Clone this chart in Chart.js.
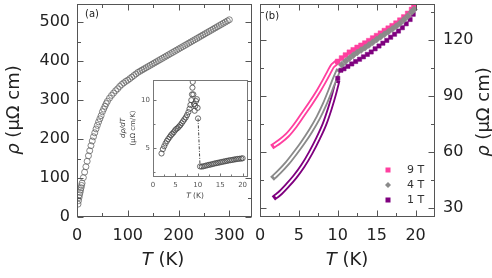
<!DOCTYPE html>
<html>
<head>
<meta charset="utf-8">
<script src="https://cdn.jsdelivr.net/npm/chart.js@4.4.1/dist/chart.umd.min.js"></script>
<style>
html, body { margin: 0; padding: 0; background: #fff; }
#wrap { position: relative; width: 492px; height: 278px; overflow: hidden; }
canvas { position: absolute; }
</style>
</head>
<body>
<div id="wrap">
  <canvas id="left" width="256" height="278" style="left:0;top:0"></canvas>
  <canvas id="right" width="236" height="278" style="left:256px;top:0"></canvas>
  <canvas id="inset" width="140" height="132" style="left:113px;top:72px"></canvas>
</div>
<script>
// (a) resistivity vs temperature, 0-300 K
var rhoT = [2, 3, 4, 5, 6, 7, 8, 9, 10, 12.5, 15, 17.5, 20, 22.5, 25, 27.5, 30, 32.5, 35, 37.5,
  40, 42.5, 45, 47.5, 50, 52.5, 55, 57.5, 60,
  64, 68, 72, 76, 80, 84, 88, 92, 96, 100, 104, 108, 112, 116, 120, 124, 128, 132, 136, 140,
  144, 148, 152, 156, 160, 164, 168, 172, 176, 180, 184, 188, 192, 196, 200, 204, 208, 212, 216, 220,
  224, 228, 232, 236, 240, 244, 248, 252, 256, 260, 264, 268, 272, 276, 280, 284, 288, 292, 296, 300];
var rhoVal = [33, 42, 50, 57, 63, 69, 75, 81, 87, 101, 115, 129, 143, 157, 170, 183, 195, 206, 216, 226,
  235, 244, 252, 260, 270, 277, 284, 291, 297,
  305, 312, 318, 324, 329, 335, 340, 344, 348, 351, 355, 359, 363, 367, 371, 374, 377, 380, 383, 386,
  389, 392, 395, 398, 401, 404, 407, 410, 413, 416, 419, 422, 425, 428, 431, 434, 437, 440, 443, 446,
  449, 452, 455, 458, 461, 464, 467, 470, 473, 476, 479, 482, 485, 488, 491, 494, 497, 500, 503, 506];

// inset: d rho / dT
var insetT = [1.9, 2.2, 2.5, 2.8, 3.1, 3.4, 3.7, 4.0, 4.3, 4.6, 4.9, 5.2, 5.5, 5.8, 6.1, 6.4, 6.7, 7.0, 7.3, 7.6,
  7.9, 8.15, 8.35, 8.55, 8.7, 8.8, 8.87, 9.0, 9.15, 9.3, 9.45, 9.6, 9.8, 9.95, 10.05, 10.5, 10.9, 11.3, 11.7, 12.1,
  12.5, 12.9, 13.3, 13.7, 14.1, 14.5, 14.9, 15.3, 15.7, 16.1, 16.5, 16.9, 17.3, 17.7, 18.1, 18.5, 18.9, 19.3, 19.7, 20.0];
var insetVal = [4.45, 4.9, 5.2, 5.5, 5.75, 5.95, 6.15, 6.35, 6.5, 6.65, 6.85, 7.0, 7.1, 7.25, 7.4, 7.6, 7.8, 8.0, 8.2, 8.45,
  8.75, 9.1, 9.5, 10.0, 10.6, 11.3, 11.9, 10.6, 9.6, 8.9, 9.4, 9.9, 10.1, 9.2, 8.1, 3.1, 3.08, 3.12, 3.17, 3.22,
  3.27, 3.3, 3.35, 3.4, 3.44, 3.48, 3.52, 3.56, 3.6, 3.64, 3.68, 3.72, 3.75, 3.78, 3.82, 3.85, 3.88, 3.9, 3.92, 3.95];

// (b) low temperature, three fields
var lowT9 = [1.8, 2.5, 3.5, 4.5, 5.5, 6.5, 7.5, 8.3, 8.9, 9.3, 9.7];
var lowV9 = [63.5, 65.5, 69, 74, 80, 86, 92.5, 98.3, 103, 106, 107.5];
var highT9 = [10, 10.5, 11, 11.5, 12, 12.5, 13, 13.5, 14, 14.5, 15, 15.5, 16, 16.5, 17, 17.5, 18, 18.5, 19, 19.5, 19.8];
var highV9 = [108.5, 110.3, 111.9, 113.4, 114.7, 116, 117.1, 118.3, 119.6, 121, 122.3, 123.6, 125, 126.3, 127.6, 129, 130.6, 132.3, 134.2, 136.3, 137.6];

var lowT4 = [1.8, 2.5, 3.5, 4.5, 5.5, 6.5, 7.5, 8.3, 9, 9.5, 10];
var lowV4 = [46.7, 49.5, 54, 59.3, 65, 71.3, 78.5, 85.5, 92.6, 98, 103];
var highT4 = [10.5, 11, 11.5, 12, 12.5, 13, 13.5, 14, 14.5, 15, 15.5, 16, 16.5, 17, 17.5, 18, 18.5, 19, 19.5, 19.8];
var highV4 = [106.8, 108.6, 110.3, 111.9, 113.3, 114.6, 115.9, 117.3, 118.8, 120.3, 121.7, 123.1, 124.5, 125.9, 127.4, 129, 130.8, 132.8, 135, 136.3];

var lowT1 = [2, 2.5, 3.5, 4.5, 5.5, 6.5, 7.5, 8.3, 9, 9.5, 9.9];
var lowV1 = [36.1, 37.7, 42, 46.8, 52.5, 59.5, 67.6, 75, 83.5, 90.5, 97];
var highT1 = [10, 10.4, 10.8, 11.3, 11.8, 12.3, 12.8, 13.3, 13.8, 14.3, 14.8, 15.3, 15.8, 16.3, 16.8, 17.3, 17.8, 18.3, 18.8, 19.3, 19.7];
var highV1 = [99.5, 103.8, 104.6, 105.9, 107.2, 108.5, 109.7, 111, 112.3, 113.6, 115.3, 116.8, 118.3, 119.8, 121.5, 123.1, 124.8, 126.6, 128.7, 131, 133.8];

var fieldLabels = ['9 T', '4 T', '1 T'];

// ticks
var aXTicks = [0, 100, 200, 300], aXMinor = [50, 150, 250];
var aYTicks = [0, 100, 200, 300, 400, 500], aYMinor = [50, 150, 250, 350, 450];
var bXTicks = [0, 5, 10, 15, 20], bXMinor = [2.5, 7.5, 12.5, 17.5];
var bYTicks = [30, 60, 90, 120], bYMinor = [45, 75, 105, 135];
var iXTicks = [0, 5, 10, 15, 20], iXMinor = [2.5, 7.5, 12.5, 17.5];
var iYTicks = [5, 10], iYMinor = [2.5, 7.5];

var PINK = '#ff3f9f', GREY = '#8a8a8a', PURPLE = '#7f007f';
var FONT = '"DejaVu Sans", Verdana, sans-serif';

Chart.defaults.font.family = FONT;
Chart.defaults.color = '#222';
Chart.defaults.animation = false;

function pts(xs, ys) {
    return xs.map(function (x, i) { return { x: x, y: ys[i] }; });
}
function fixTicks(list) {
    return function (s) { s.ticks = list.map(function (v) { return { value: v }; }); };
}
// fixed axis size, no automatic label padding
function fitTo(prop, size) {
    return function (s) {
        s[prop] = size;
        s.paddingLeft = 0; s.paddingRight = 0; s.paddingTop = 0; s.paddingBottom = 0;
    };
}

function mixText(ctx, parts, x, y, rot, size, color) {
    ctx.save();
    ctx.translate(x, y);
    ctx.rotate(rot);
    ctx.fillStyle = color || '#222';
    ctx.textBaseline = 'middle';
    ctx.textAlign = 'left';
    var w = 0;
    parts.forEach(function (p) {
        ctx.font = (p[1] ? 'italic ' : '') + size + 'px ' + FONT;
        w += ctx.measureText(p[0]).width;
    });
    var cx = -w / 2;
    parts.forEach(function (p) {
        ctx.font = (p[1] ? 'italic ' : '') + size + 'px ' + FONT;
        ctx.fillText(p[0], cx, 0);
        cx += ctx.measureText(p[0]).width;
    });
    ctx.restore();
}

// box round the plot area with inward ticks, plus free text
function axisFrame(o) {
    return {
        id: 'axisFrame',
        beforeDatasetsDraw: function (chart) {
            if (!o.fill) return;
            var a = chart.chartArea;
            chart.ctx.save();
            chart.ctx.fillStyle = '#fff';
            chart.ctx.fillRect(a.left, a.top, a.right - a.left, a.bottom - a.top);
            chart.ctx.restore();
        },
        afterDatasetsDraw: function (chart) {
            var a = chart.chartArea, ctx = chart.ctx;
            var xs = chart.scales.x, ys = chart.scales.y;
            var l = Math.round(a.left) + 0.5, r = Math.round(a.right) - 0.5;
            var t = Math.round(a.top) + 0.5, b = Math.round(a.bottom) - 0.5;
            ctx.save();
            ctx.strokeStyle = o.color;
            ctx.lineWidth = 1;
            ctx.strokeRect(l, t, r - l, b - t);
            ctx.beginPath();
            function xt(vals, len) {
                vals.forEach(function (v) {
                    var px = Math.round(xs.getPixelForValue(v)) + 0.5;
                    ctx.moveTo(px, b); ctx.lineTo(px, b - len);
                    if (o.all) { ctx.moveTo(px, t); ctx.lineTo(px, t + len); }
                });
            }
            function yt(vals, len) {
                vals.forEach(function (v) {
                    var py = Math.round(ys.getPixelForValue(v)) + 0.5;
                    ctx.moveTo(l, py); ctx.lineTo(l + len, py);
                    if (o.all) { ctx.moveTo(r, py); ctx.lineTo(r - len, py); }
                });
            }
            xt(o.xMajor, o.major); xt(o.xMinor, o.minor);
            yt(o.yMajor, o.major); yt(o.yMinor, o.minor);
            ctx.stroke();
            ctx.restore();
            if (o.extra) o.extra(chart, ctx);
        }
    };
}

// (a)
new Chart(document.getElementById('left'), {
    type: 'scatter',
    data: {
        datasets: [{
            data: pts(rhoT, rhoVal),
            pointStyle: 'circle',
            pointRadius: 3,
            pointHoverRadius: 3,
            borderColor: '#666',
            borderWidth: 0.8,
            backgroundColor: 'rgba(255,255,255,0)'
        }]
    },
    options: {
        responsive: false,
        devicePixelRatio: 1,
        events: [],
        layout: { padding: { top: 2, right: 3, left: 0, bottom: 0 } },
        plugins: { legend: { display: false }, tooltip: { enabled: false } },
        scales: {
            x: {
                type: 'linear', min: 0, max: 345,
                afterBuildTicks: fixTicks(aXTicks),
                afterFit: fitTo('height', 61),
                grid: { display: false, drawTicks: false },
                border: { display: false },
                ticks: { font: { size: 16 }, padding: 9, maxRotation: 0, color: '#222' }
            },
            y: {
                type: 'linear', min: 0, max: 547,
                afterBuildTicks: fixTicks(aYTicks),
                afterFit: fitTo('width', 77),
                grid: { display: false, drawTicks: false },
                border: { display: false },
                ticks: { font: { size: 16 }, padding: 7, color: '#222' }
            }
        }
    },
    plugins: [axisFrame({
        color: '#555', all: true, major: 6, minor: 3.5,
        xMajor: aXTicks, xMinor: aXMinor, yMajor: aYTicks, yMinor: aYMinor,
        extra: function (chart, ctx) {
            mixText(ctx, [['ρ', true], [' (μΩ cm)', false]], 14, 110, -Math.PI / 2, 18);
            mixText(ctx, [['T', true], [' (K)', false]], 163, 260, 0, 18);
            mixText(ctx, [['(a)', false]], 92, 14, 0, 10);
        }
    })]
});

// (b)
function lowLine(xs, ys, color, white) {
    return {
        data: pts(xs, ys),
        showLine: true,
        pointRadius: 0,
        borderColor: white ? '#fff' : color,
        borderWidth: white ? 1.8 : 5.5,
        borderCapStyle: white ? 'butt' : 'square',
        cubicInterpolationMode: 'monotone'
    };
}
function highPts(xs, ys, color, style, r) {
    return {
        data: pts(xs, ys),
        showLine: false,
        pointStyle: style,
        pointRadius: r,
        pointHoverRadius: r,
        backgroundColor: color,
        borderColor: color,
        borderWidth: 0.5
    };
}

new Chart(document.getElementById('right'), {
    type: 'scatter',
    data: {
        datasets: [
            highPts(highT4, highV4, GREY, 'rectRot', 3.5),
            highPts(highT9, highV9, PINK, 'rect', 3.5),
            highPts(highT1, highV1, PURPLE, 'rect', 3),
            lowLine(lowT4, lowV4, GREY, true),
            lowLine(lowT4, lowV4, GREY, false),
            lowLine(lowT9, lowV9, PINK, true),
            lowLine(lowT9, lowV9, PINK, false),
            lowLine(lowT1, lowV1, PURPLE, true),
            lowLine(lowT1, lowV1, PURPLE, false)
        ]
    },
    options: {
        responsive: false,
        devicePixelRatio: 1,
        events: [],
        layout: { padding: { top: 2, right: 0, left: 2, bottom: 0 } },
        plugins: { legend: { display: false }, tooltip: { enabled: false } },
        scales: {
            x: {
                type: 'linear', min: 0, max: 22.5,
                afterBuildTicks: fixTicks(bXTicks),
                afterFit: fitTo('height', 61),
                grid: { display: false, drawTicks: false },
                border: { display: false },
                ticks: { font: { size: 16 }, padding: 9, maxRotation: 0, color: '#222' }
            },
            y: {
                type: 'linear', position: 'right', min: 25.2, max: 139.3,
                afterBuildTicks: fixTicks(bYTicks),
                afterFit: fitTo('width', 57),
                grid: { display: false, drawTicks: false },
                border: { display: false },
                ticks: { font: { size: 16 }, padding: 8, color: '#222' }
            }
        }
    },
    plugins: [axisFrame({
        color: '#555', all: true, major: 6, minor: 3.5,
        xMajor: bXTicks, xMinor: bXMinor, yMajor: bYTicks, yMinor: bYMinor,
        extra: function (chart, ctx) {
            mixText(ctx, [['ρ', true], [' (μΩ cm)', false]], 228, 112, -Math.PI / 2, 18);
            mixText(ctx, [['T', true], [' (K)', false]], 91, 260, 0, 18);
            mixText(ctx, [['(b)', false]], 16, 16, 0, 10);
            // legend
            var rows = [170, 185, 200], cols = [PINK, GREY, PURPLE];
            ctx.save();
            rows.forEach(function (y, i) {
                var x = 132;
                ctx.fillStyle = cols[i];
                if (i === 1) {
                    ctx.beginPath();
                    ctx.moveTo(x, y - 3); ctx.lineTo(x + 3, y); ctx.lineTo(x, y + 3); ctx.lineTo(x - 3, y);
                    ctx.closePath(); ctx.fill();
                } else {
                    ctx.fillRect(x - 2.5, y - 2.5, 5, 5);
                }
                ctx.fillStyle = '#333';
                ctx.font = '11px ' + FONT;
                ctx.textAlign = 'left';
                ctx.textBaseline = 'middle';
                ctx.fillText(fieldLabels[i], 151, y);
            });
            ctx.restore();
        }
    })]
});

// inset
new Chart(document.getElementById('inset'), {
    type: 'scatter',
    data: {
        datasets: [{
            data: pts(insetT, insetVal),
            showLine: true,
            pointStyle: 'circle',
            pointRadius: 2.6,
            pointHoverRadius: 2.6,
            pointBorderColor: '#444',
            pointBorderWidth: 0.8,
            pointBackgroundColor: 'rgba(255,255,255,0)',
            borderWidth: 0.9,
            segment: {
                borderColor: function (c) { return (c.p0.parsed.y - c.p1.parsed.y > 3) ? '#333' : 'rgba(0,0,0,0)'; },
                borderDash: function (c) { return [3, 1.5, 1, 1.5]; }
            }
        }]
    },
    options: {
        responsive: false,
        devicePixelRatio: 1,
        events: [],
        layout: { padding: { top: 8, right: 5, left: 0, bottom: 0 } },
        plugins: { legend: { display: false }, tooltip: { enabled: false } },
        scales: {
            x: {
                type: 'linear', min: 0, max: 21.2,
                afterBuildTicks: fixTicks(iXTicks),
                afterFit: fitTo('height', 27),
                grid: { display: false, drawTicks: false },
                border: { display: false },
                ticks: { font: { size: 7 }, padding: 4, maxRotation: 0, color: '#555' }
            },
            y: {
                type: 'linear', min: 2.0, max: 12.1,
                afterBuildTicks: fixTicks(iYTicks),
                afterFit: fitTo('width', 40),
                grid: { display: false, drawTicks: false },
                border: { display: false },
                ticks: { font: { size: 7 }, padding: 3, color: '#555' }
            }
        }
    },
    plugins: [axisFrame({
        color: '#777', all: false, fill: true, major: 3, minor: 2,
        xMajor: iXTicks, xMinor: iXMinor, yMajor: iYTicks, yMinor: iYMinor,
        extra: function (chart, ctx) {
            mixText(ctx, [['dρ/dT', true]], 10, 56, -Math.PI / 2, 7, '#444');
            mixText(ctx, [['(μΩ cm/K)', false]], 20, 56, -Math.PI / 2, 7, '#444');
            mixText(ctx, [['T', true], [' (K)', false]], 82, 124, 0, 7.5, '#444');
        }
    })]
});
</script>
</body>
</html>
